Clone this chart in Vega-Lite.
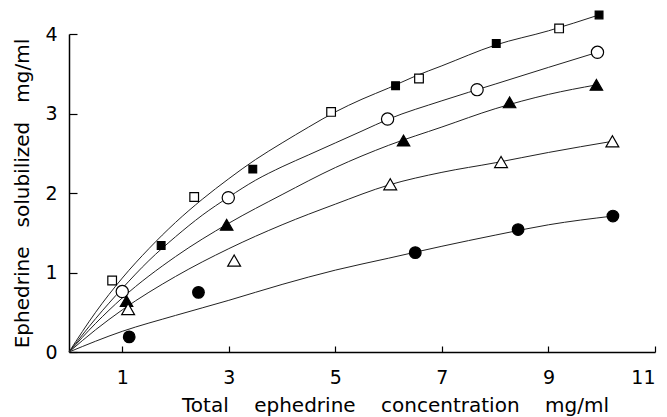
{
  "$schema": "https://vega.github.io/schema/vega-lite/v6.json",
  "width": 586,
  "height": 318,
  "autosize": {"type": "none"},
  "padding": {"left": 69, "top": 34, "right": 12, "bottom": 65},
  "background": "white",
  "config": {
    "view": {"stroke": null},
    "font": "DejaVu Sans",
    "axis": {
      "grid": false,
      "domainColor": "black",
      "domainWidth": 1.5,
      "tickColor": "black",
      "tickWidth": 1.2,
      "labelColor": "black",
      "titleColor": "black",
      "labelFont": "DejaVu Sans",
      "titleFont": "DejaVu Sans",
      "labelFontSize": 19,
      "titleFontSize": 20,
      "titleFontWeight": "normal"
    }
  },
  "datasets": {
    "points": [
      {"marker": "open square", "x": 0.81, "y": 0.90},
      {"marker": "filled square", "x": 1.73, "y": 1.34},
      {"marker": "open square", "x": 2.35, "y": 1.95},
      {"marker": "filled square", "x": 3.45, "y": 2.30},
      {"marker": "open square", "x": 4.92, "y": 3.02},
      {"marker": "filled square", "x": 6.13, "y": 3.35},
      {"marker": "open square", "x": 6.57, "y": 3.44},
      {"marker": "filled square", "x": 8.02, "y": 3.88},
      {"marker": "open square", "x": 9.20, "y": 4.07},
      {"marker": "filled square", "x": 9.95, "y": 4.24},
      {"marker": "open circle", "x": 1.0, "y": 0.76},
      {"marker": "open circle", "x": 2.99, "y": 1.94},
      {"marker": "open circle", "x": 5.98, "y": 2.93},
      {"marker": "open circle", "x": 7.66, "y": 3.30},
      {"marker": "open circle", "x": 9.92, "y": 3.77},
      {"marker": "filled triangle", "x": 1.08, "y": 0.64},
      {"marker": "filled triangle", "x": 2.96, "y": 1.60},
      {"marker": "filled triangle", "x": 6.28, "y": 2.66},
      {"marker": "filled triangle", "x": 8.27, "y": 3.14},
      {"marker": "filled triangle", "x": 9.90, "y": 3.36},
      {"marker": "open triangle", "x": 1.11, "y": 0.54},
      {"marker": "open triangle", "x": 3.10, "y": 1.15},
      {"marker": "open triangle", "x": 6.03, "y": 2.11},
      {"marker": "open triangle", "x": 8.11, "y": 2.39},
      {"marker": "open triangle", "x": 10.20, "y": 2.65},
      {"marker": "filled circle", "x": 1.13, "y": 0.19},
      {"marker": "filled circle", "x": 2.43, "y": 0.75},
      {"marker": "filled circle", "x": 6.50, "y": 1.25},
      {"marker": "filled circle", "x": 8.43, "y": 1.54},
      {"marker": "filled circle", "x": 10.21, "y": 1.71}
    ],
    "curves": [
      {"curve": "A", "x": 0, "y": 0}, {"curve": "A", "x": 0.5, "y": 0.5}, {"curve": "A", "x": 1, "y": 0.93},
      {"curve": "A", "x": 1.5, "y": 1.3}, {"curve": "A", "x": 2, "y": 1.63}, {"curve": "A", "x": 2.5, "y": 1.92},
      {"curve": "A", "x": 3, "y": 2.18}, {"curve": "A", "x": 3.5, "y": 2.42}, {"curve": "A", "x": 4, "y": 2.63},
      {"curve": "A", "x": 4.5, "y": 2.83}, {"curve": "A", "x": 5, "y": 3.02}, {"curve": "A", "x": 5.5, "y": 3.18},
      {"curve": "A", "x": 6, "y": 3.32}, {"curve": "A", "x": 6.5, "y": 3.47}, {"curve": "A", "x": 7, "y": 3.6},
      {"curve": "A", "x": 8, "y": 3.86}, {"curve": "A", "x": 9, "y": 4.04}, {"curve": "A", "x": 9.95, "y": 4.24},
      {"curve": "B", "x": 0, "y": 0}, {"curve": "B", "x": 0.5, "y": 0.42}, {"curve": "B", "x": 1, "y": 0.8},
      {"curve": "B", "x": 1.5, "y": 1.15}, {"curve": "B", "x": 2, "y": 1.45}, {"curve": "B", "x": 2.5, "y": 1.72},
      {"curve": "B", "x": 3, "y": 1.95}, {"curve": "B", "x": 3.5, "y": 2.16}, {"curve": "B", "x": 4, "y": 2.33},
      {"curve": "B", "x": 4.5, "y": 2.48}, {"curve": "B", "x": 5, "y": 2.63}, {"curve": "B", "x": 5.5, "y": 2.78},
      {"curve": "B", "x": 6, "y": 2.93}, {"curve": "B", "x": 7, "y": 3.16}, {"curve": "B", "x": 8, "y": 3.37},
      {"curve": "B", "x": 9, "y": 3.58}, {"curve": "B", "x": 9.92, "y": 3.77},
      {"curve": "C", "x": 0, "y": 0}, {"curve": "C", "x": 0.5, "y": 0.36}, {"curve": "C", "x": 1, "y": 0.68},
      {"curve": "C", "x": 2, "y": 1.2}, {"curve": "C", "x": 3, "y": 1.62}, {"curve": "C", "x": 4, "y": 1.98},
      {"curve": "C", "x": 5, "y": 2.32}, {"curve": "C", "x": 6, "y": 2.6}, {"curve": "C", "x": 7, "y": 2.83},
      {"curve": "C", "x": 8, "y": 3.06}, {"curve": "C", "x": 9, "y": 3.24}, {"curve": "C", "x": 9.9, "y": 3.36},
      {"curve": "D", "x": 0, "y": 0}, {"curve": "D", "x": 0.5, "y": 0.28}, {"curve": "D", "x": 1, "y": 0.53},
      {"curve": "D", "x": 2, "y": 0.95}, {"curve": "D", "x": 3, "y": 1.3}, {"curve": "D", "x": 4, "y": 1.6},
      {"curve": "D", "x": 5, "y": 1.86}, {"curve": "D", "x": 6, "y": 2.1}, {"curve": "D", "x": 7, "y": 2.26},
      {"curve": "D", "x": 8, "y": 2.38}, {"curve": "D", "x": 9, "y": 2.51}, {"curve": "D", "x": 10.2, "y": 2.65},
      {"curve": "E", "x": 0, "y": 0}, {"curve": "E", "x": 1, "y": 0.26}, {"curve": "E", "x": 2, "y": 0.46},
      {"curve": "E", "x": 3, "y": 0.65}, {"curve": "E", "x": 4, "y": 0.85}, {"curve": "E", "x": 5, "y": 1.03},
      {"curve": "E", "x": 6, "y": 1.18}, {"curve": "E", "x": 7, "y": 1.33}, {"curve": "E", "x": 8, "y": 1.47},
      {"curve": "E", "x": 9, "y": 1.6}, {"curve": "E", "x": 10.21, "y": 1.71}
    ]
  },
  "layer": [
    {
      "data": {"name": "curves"},
      "mark": {"type": "line", "interpolate": "monotone", "color": "#222", "strokeWidth": 1},
      "encoding": {
        "x": {
          "field": "x", "type": "quantitative",
          "scale": {"domain": [0, 11], "nice": false, "zero": false},
          "axis": {
            "values": [1, 3, 5, 7, 9, 11],
            "format": "d",
            "tickSize": -6,
            "labelPadding": 22,
            "title": "Total\u00a0\u00a0\u00a0\u00a0ephedrine\u00a0\u00a0\u00a0\u00a0concentration\u00a0\u00a0\u00a0\u00a0mg/ml",
            "titleX": 326,
            "titleY": 59,
            "titleBaseline": "alphabetic",
            "titleAnchor": "middle"
          }
        },
        "y": {
          "field": "y", "type": "quantitative",
          "scale": {"domain": [0, 4], "nice": false},
          "axis": {
            "values": [0, 1, 2, 3, 4],
            "format": "d",
            "tickSize": -8,
            "labelPadding": 20,
            "title": "Ephedrine\u00a0\u00a0\u00a0solubilized\u00a0\u00a0\u00a0mg/ml",
            "titleX": -47,
            "titleY": 159,
            "titleAnchor": "middle",
            "titleBaseline": "middle"
          }
        },
        "detail": {"field": "curve"}
      }
    },
    {
      "data": {"name": "points"},
      "mark": {"type": "point", "filled": false, "stroke": "black", "strokeWidth": 1.2, "opacity": 1},
      "encoding": {
        "x": {"field": "x", "type": "quantitative"},
        "y": {"field": "y", "type": "quantitative"},
        "shape": {
          "field": "marker", "type": "nominal", "legend": null,
          "scale": {
            "domain": ["open square", "filled square", "open circle", "filled circle", "open triangle", "filled triangle"],
            "range": ["square", "square", "circle", "circle", "triangle-up", "triangle-up"]
          }
        },
        "fill": {
          "field": "marker", "type": "nominal", "legend": null,
          "scale": {
            "domain": ["open square", "filled square", "open circle", "filled circle", "open triangle", "filled triangle"],
            "range": ["white", "black", "white", "black", "white", "black"]
          }
        },
        "size": {
          "field": "marker", "type": "nominal", "legend": null,
          "scale": {
            "type": "ordinal",
            "domain": ["open square", "filled square", "open circle", "filled circle", "open triangle", "filled triangle"],
            "range": [75, 60, 150, 135, 165, 155]
          }
        }
      }
    }
  ]
}
